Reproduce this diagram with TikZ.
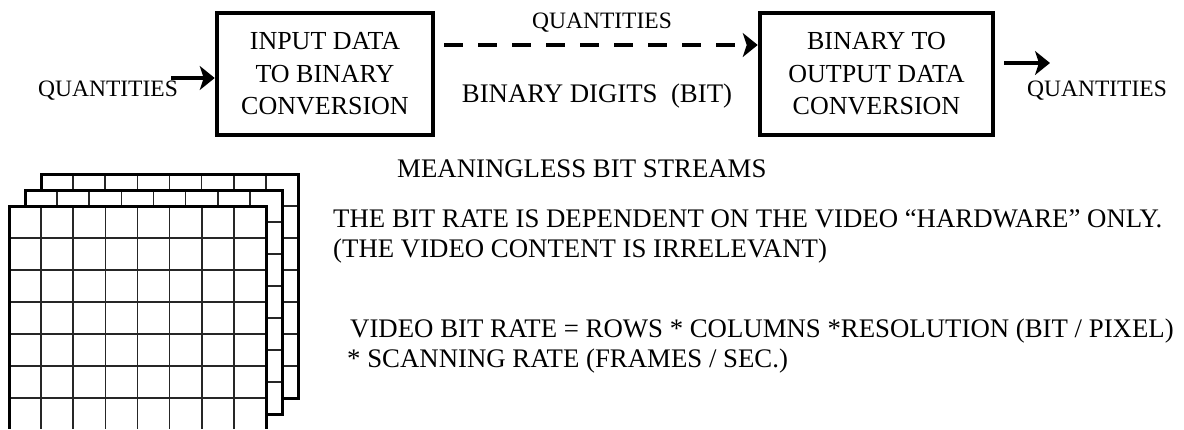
\documentclass[tikz,border=0pt]{standalone}
\usepackage{fontspec}
\setmainfont{Liberation Serif}
\usetikzlibrary{arrows.meta}
\tikzset{
  blockbox/.style={draw, line width=4.5pt, align=center, inner sep=0pt,
    font=\fontsize{26}{32.5}\selectfont},
  lbl/.style={inner sep=0pt, font=\fontsize{26.8}{30}\selectfont},
  qlbl/.style={inner sep=0pt, font=\fontsize{23.5}{28}\selectfont},
  flow/.style={line width=4.5pt, -{Stealth[length=15pt,width=24pt,inset=4pt]}},
  gridouter/.style={fill=white, draw=black, line width=3pt},
  gridinner/.style={draw=black!85, line width=1.6pt}
}
\newcommand\vgridlayer[2]{%
  \filldraw[gridouter] (#1,#2) rectangle ++(257,224);
  \foreach \i in {1,...,7} {\draw[gridinner] (#1+\i*32.125,#2) -- ++(0,224);}
  \foreach \j in {1,...,6} {\draw[gridinner] (#1,#2+\j*32) -- ++(257,0);}
  \draw[line width=3pt] (#1,#2) rectangle ++(257,224);
}
\begin{document}
\begin{tikzpicture}[x=1pt,y=-1pt]
\useasboundingbox (0,0) rectangle (1184,429);

% blocks
\node[blockbox, minimum width=216pt, minimum height=122pt] (b1) at (325,74)
  {INPUT DATA\\TO BINARY\\CONVERSION};
\node[blockbox, minimum width=233pt, minimum height=122pt] (b2) at (876.5,74)
  {BINARY TO\\OUTPUT DATA\\CONVERSION};

% labels
\node[qlbl] (qin) at (108,91) {QUANTITIES};
\node[qlbl] (qtop) at (602,23) {QUANTITIES};
\node[qlbl] (qout) at (1097,91) {QUANTITIES};
\node[lbl, anchor=base] (bits) at (597,102) {BINARY DIGITS\ \ (BIT)};

% connectors
\coordinate (inA) at (171,78);
\coordinate (outA) at (1050,63);
\draw[flow] (inA) -- (b1.west |- inA);
\draw[flow, dash pattern=on 19pt off 15pt, shorten <=9pt] (b1.east |- 0,45) -- (b2.west |- 0,45);
\draw[flow, shorten <=9pt] (b2.east |- outA) -- (outA);

% stacked frames
\begin{scope}
\clip (0,0) rectangle (1184,428);
\vgridlayer{41}{174}
\vgridlayer{25}{190}
\vgridlayer{9}{206}
\end{scope}

% text block
\node[lbl, anchor=base west] (t1) at (397,177) {MEANINGLESS BIT STREAMS};
\node[lbl, anchor=base west] (t2) at (333,227) {THE BIT RATE IS DEPENDENT ON THE VIDEO “HARDWARE” ONLY.};
\node[lbl, anchor=base west] (t3) at (333,257) {(THE VIDEO CONTENT IS IRRELEVANT)};
\node[lbl, anchor=base west] (t4) at (350,337) {VIDEO BIT RATE = ROWS * COLUMNS *RESOLUTION (BIT / PIXEL)};
\node[lbl, anchor=base west] (t5) at (347,367) {* SCANNING RATE (FRAMES / SEC.)};
\end{tikzpicture}
\end{document}
